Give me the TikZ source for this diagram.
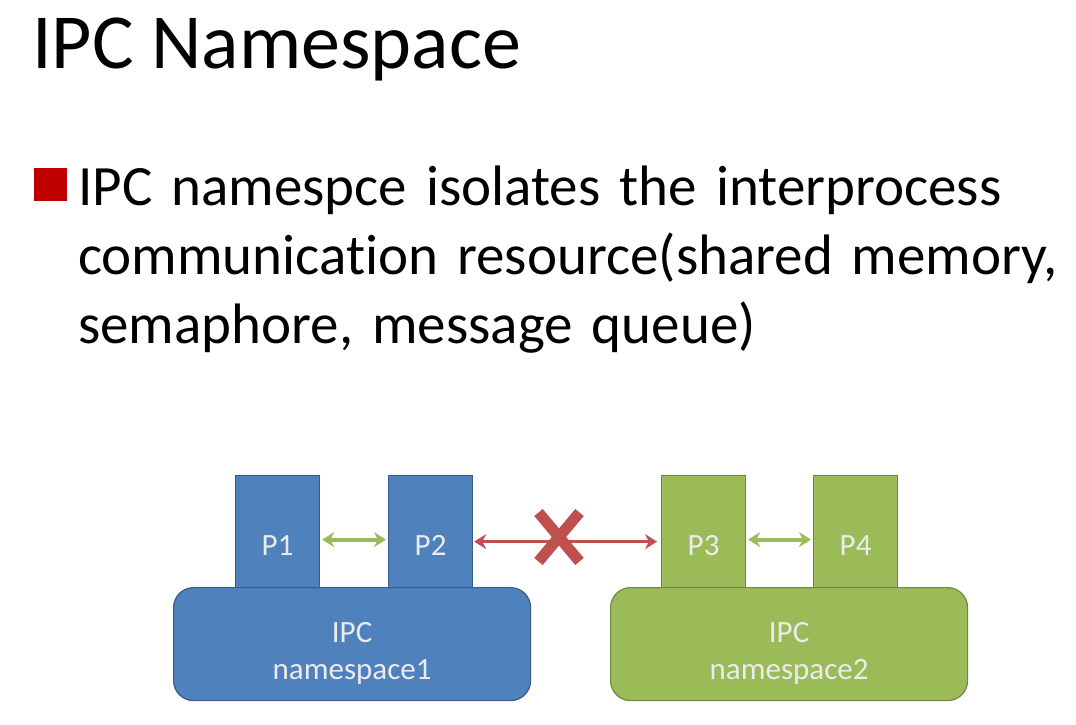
\documentclass[tikz,border=0pt]{standalone}
\usepackage{fontspec}
\setmainfont{Carlito}[Ligatures=NoCommon]
\usetikzlibrary{arrows.meta,shapes.misc}

\definecolor{nsblue}{HTML}{4F81BD}
\definecolor{nsblueline}{HTML}{385D8A}
\definecolor{nsgreen}{HTML}{9BBB59}
\definecolor{nsgreenline}{HTML}{71893F}
\definecolor{linkgreen}{HTML}{9BBB59}
\definecolor{linkred}{HTML}{C0504D}
\definecolor{bulletred}{HTML}{C00000}

\tikzset{
    boxtext/.style={text=white!92!black, font=\fontsize{31}{37}\selectfont},
    procbox/.style={minimum width=84pt, minimum height=140pt, inner sep=0pt,
        line width=1.2pt, boxtext},
    nsbox/.style={rounded corners=20pt, minimum width=357pt, minimum height=113pt,
        line width=1.2pt},
    nslabel/.style={boxtext, align=center, yshift=-9pt},
    blueproc/.style={procbox, fill=nsblue, draw=nsblueline},
    greenproc/.style={procbox, fill=nsgreen, draw=nsgreenline},
    bluens/.style={nsbox, fill=nsblue, draw=nsblueline},
    greenns/.style={nsbox, fill=nsgreen, draw=nsgreenline},
    okarrow/.style={{Stealth[length=12pt,width=15pt]}-{Stealth[length=12pt,width=15pt]},
        line width=4pt, draw=linkgreen, shorten <=2pt, shorten >=2pt},
    badarrow/.style={{Stealth[length=12pt,width=15pt]}-{Stealth[length=12pt,width=15pt]},
        line width=3.5pt, draw=linkred, shorten <=1pt, shorten >=4pt}
}

\begin{document}
\begin{tikzpicture}[x=1pt, y=-1pt]
    \useasboundingbox (0,0) rectangle (1076,724);

    % Title and bullet text
    \node[anchor=base west, inner sep=0pt, font=\fontsize{78}{94}\selectfont] (title) at (32,68) {IPC Namespace};
    \node[fill=bulletred, minimum size=33pt, inner sep=0pt, anchor=north west] (bullet) at (34,168) {};
    \node[anchor=base west, inner sep=0pt, text width=990pt, align=left,
          font=\fontsize{57}{69}\selectfont] (bullettext) at (78,205)
        {IPC namespce isolates the interprocess\\communication resource(shared memory,\\semaphore, message queue)};

    % Processes
    \node[blueproc, anchor=north west] (p1) at (235,475) {P1};
    \node[blueproc, anchor=north west] (p2) at (388,475) {P2};
    \node[greenproc, anchor=north west] (p3) at (661,475) {P3};
    \node[greenproc, anchor=north west] (p4) at (813,475) {P4};

    % Namespaces
    \node[bluens, anchor=north west, label={[nslabel, name=ns1text]center:IPC\\namespace1}] (ns1) at (173,587) {};
    \node[greenns, anchor=north west, label={[nslabel, name=ns2text]center:IPC\\namespace2}] (ns2) at (610,587) {};

    % Links
    \draw[okarrow] ([yshift=6pt]p1.east) -- ([yshift=6pt]p2.west);
    \draw[okarrow] ([yshift=6pt]p3.east) -- ([yshift=6pt]p4.west);
    \draw[badarrow] ([yshift=4pt]p2.east) -- ([yshift=4pt]p3.west);

    % Blocked mark
    \node[cross out, draw=linkred, line width=11pt, minimum width=30pt, minimum height=38pt,
          inner sep=0pt] (block) at (559,537) {};
\end{tikzpicture}
\end{document}
